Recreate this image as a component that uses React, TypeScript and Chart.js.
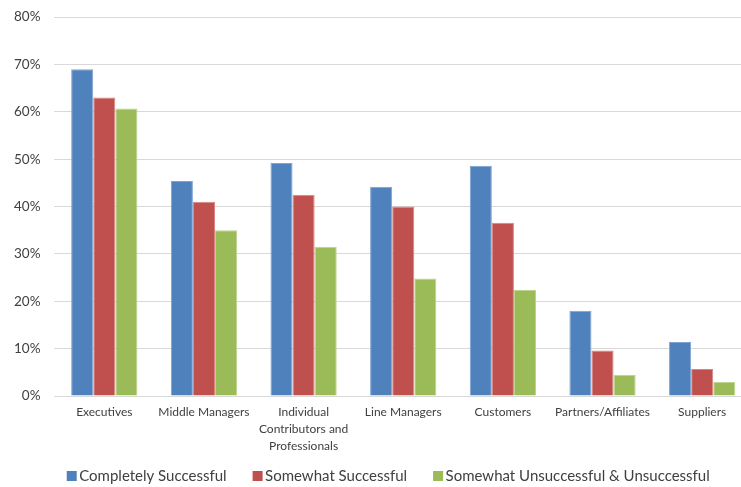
import React, { useEffect, useRef } from "react";
import { Chart, registerables } from "chart.js";

Chart.register(...registerables);

const categories: (string | string[])[] = [
  "Executives",
  "Middle Managers",
  ["Individual", "Contributors and", "Professionals"],
  "Line Managers",
  "Customers",
  "Partners/Affiliates",
  "Suppliers",
];

const completelySuccessful = [69, 45.4, 49.2, 44.2, 48.6, 18, 11.4];
const somewhatSuccessful = [63, 41, 42.5, 40, 36.6, 9.6, 5.7];
const somewhatUnsuccessful = [60.7, 35, 31.5, 24.8, 22.4, 4.5, 3];

const seriesNames = [
  "Completely Successful",
  "Somewhat Successful",
  "Somewhat Unsuccessful & Unsuccessful",
];

const FONT = "Lato, 'Open Sans', sans-serif";
const TEXT_COLOR = "#404040";
// The plot runs slightly past the right edge of the visible frame.
const CANVAS_W = 753;
const CANVAS_H = 492;
const CANVAS_SHIFT = 5;

// Bottom legend drawn with the canvas API so the item spacing can be set freely.
const bottomLegend = {
  id: "bottomLegend",
  afterDraw(chart: Chart) {
    const ctx = chart.ctx;
    const area = chart.chartArea;
    const box = 10;
    const gap = 2.5;
    const spacing = 26;
    const y = chart.height - 11;
    ctx.save();
    ctx.font = `15px ${FONT}`;
    ctx.textBaseline = "middle";
    const items = chart.data.datasets.map((ds) => ({
      text: String(ds.label),
      color: String(ds.backgroundColor),
      width: ctx.measureText(String(ds.label)).width,
    }));
    const total =
      items.reduce((s, it) => s + box + gap + it.width, 0) + spacing * (items.length - 1);
    let x = (area.left + area.right) / 2 - 15 - total / 2;
    for (const it of items) {
      ctx.fillStyle = it.color;
      ctx.fillRect(x, y - box / 2, box, box);
      x += box + gap;
      ctx.fillStyle = TEXT_COLOR;
      ctx.fillText(it.text, x, y + 0.5);
      x += it.width + spacing;
    }
    ctx.restore();
  },
};

export default function App() {
  const canvasRef = useRef<HTMLCanvasElement | null>(null);

  useEffect(() => {
    const canvas = canvasRef.current;
    if (!canvas) return;
    const chart = new Chart(canvas, {
      type: "bar",
      data: {
        labels: categories,
        datasets: [
          {
            label: seriesNames[0],
            data: completelySuccessful,
            backgroundColor: "#4F81BD",
            borderColor: "#7da3d3",
            borderWidth: 1,
          },
          {
            label: seriesNames[1],
            data: somewhatSuccessful,
            backgroundColor: "#C0504D",
            borderColor: "#d88582",
            borderWidth: 1,
          },
          {
            label: seriesNames[2],
            data: somewhatUnsuccessful,
            backgroundColor: "#9BBB59",
            borderColor: "#bcd48c",
            borderWidth: 1,
          },
        ],
      },
      options: {
        animation: false,
        responsive: false,
        maintainAspectRatio: false,
        layout: { padding: { top: 0, right: 1, left: 0, bottom: 24 } },
        datasets: {
          bar: { categoryPercentage: 0.665, barPercentage: 1 },
        },
        plugins: {
          tooltip: { enabled: false },
          legend: { display: false },
        },
        scales: {
          x: {
            grid: { display: false, drawTicks: false },
            border: { color: "#d9d9d9" },
            ticks: {
              font: { family: FONT, size: 12, lineHeight: 17 / 12 },
              color: TEXT_COLOR,
              maxRotation: 0,
              autoSkip: false,
              padding: 8,
            },
          },
          y: {
            min: 0,
            max: 80,
            border: { display: false },
            grid: { color: "#d9d9d9", drawTicks: false, lineWidth: 1 },
            ticks: {
              stepSize: 10,
              padding: 14,
              font: { family: FONT, size: 13.5 },
              color: TEXT_COLOR,
              callback: (v) => `${v}%`,
            },
          },
        },
      },
      plugins: [bottomLegend],
    });
    return () => chart.destroy();
  }, []);

  return (
    <div
      style={{
        position: "fixed",
        left: 0,
        top: 0,
        width: 741,
        height: 487,
        overflow: "hidden",
        background: "#fff",
      }}
    >
      <canvas
        ref={canvasRef}
        width={CANVAS_W}
        height={CANVAS_H}
        style={{ position: "absolute", left: 0, top: -CANVAS_SHIFT }}
      />
    </div>
  );
}
